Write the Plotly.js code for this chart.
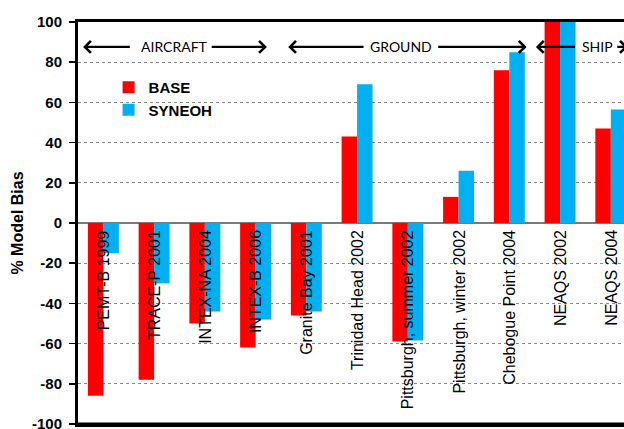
<!DOCTYPE html>
<html>
<head>
<meta charset="utf-8">
<script src="https://cdn.plot.ly/plotly-3.0.1.min.js"></script>
<style>html,body{margin:0;padding:0;background:#fff;overflow:hidden;}#chart{width:624px;height:429px;}</style>
</head>
<body>
<div id="chart"></div>
<script>
const categories = ["PEMT-B 1999", "TRACE-P 2001", "INTEX-NA 2004", "INTEX-B 2006", "Granite Bay 2001", "Trinidad Head 2002", "Pittsburgh, summer 2002", "Pittsburgh, winter 2002", "Chebogue Point 2004", "NEAQS 2002", "NEAQS 2004"];
const baseValues = [-86, -78, -50, -62, -46, 43, -59, 13, 76, 100, 47];
const syneohValues = [-15, -30, -44, -48, -44, 69, -58.5, 26, 85, 100, 56.5];
const yTicks = [-100, -80, -60, -40, -20, 0, 20, 40, 60, 80, 100];
const groups = [
  {name: "AIRCRAFT", text: 1.40, lHead: -0.40, lTail: 0.551, rTail: 2.106, rHead: 3.222},
  {name: "GROUND", text: 5.866, lHead: 3.642, lTail: 5.157, rTail: 6.569, rHead: 8.341},
  {name: "SHIP", text: 9.738, lHead: 8.524, lTail: 9.325, rTail: 10.098, rHead: 10.335}
];
const groupY = 87.6;

const ARIAL = "Liberation Sans, Arial, sans-serif";

const traces = [
  {type: "bar", name: "BASE", x: categories, y: baseValues, marker: {color: "#FF0000"}, hoverinfo: "x+y"},
  {type: "bar", name: "SYNEOH", x: categories, y: syneohValues, marker: {color: "#00B0F0"}, hoverinfo: "x+y"}
];

const annotations = [];
categories.forEach(function (c) {
  annotations.push({
    x: c, y: 0, xref: "x", yref: "y", text: c, showarrow: false,
    textangle: -90, xanchor: "center", yanchor: "top", yshift: -5,
    font: {family: ARIAL, size: 16, color: "#000"}
  });
});
groups.forEach(function (g) {
  annotations.push({x: g.text, y: groupY, xref: "x", yref: "y", text: g.name, showarrow: false,
    xanchor: "center", yanchor: "middle", font: {family: "Lato, sans-serif", size: 14, color: "#000"}});
  [[g.lHead, g.lTail], [g.rHead, g.rTail]].forEach(function (p) {
    annotations.push({x: p[0], y: groupY, ax: p[1], ay: groupY, xref: "x", yref: "y", axref: "x", ayref: "y",
      text: "", showarrow: true, arrowhead: 4, arrowsize: 1, arrowwidth: 2.3, arrowcolor: "#000", standoff: 0, startstandoff: 0});
  });
});

const layout = {
  width: 624, height: 429,
  margin: {l: 78, r: 0, t: 22, b: 5},
  paper_bgcolor: "#fff", plot_bgcolor: "#fff",
  barmode: "group", bargap: 0.39, bargroupgap: 0,
  showlegend: true,
  legend: {x: 0.056, y: 0.878, xanchor: "left", yanchor: "top", bgcolor: "rgba(0,0,0,0)",
    font: {family: ARIAL, size: 15, color: "#000", weight: "bold"}, traceorder: "normal"},
  xaxis: {type: "category", range: [-0.5, 10.26], showticklabels: false, ticks: "",
    showgrid: false, showline: true, linecolor: "#000", linewidth: 3, mirror: true, zeroline: false, fixedrange: true},
  yaxis: {range: [-100, 100], tickmode: "array", tickvals: yTicks, ticktext: yTicks.map(String),
    ticks: "outside", ticklen: 6, tickwidth: 1.5, tickcolor: "#000", ticklabelstandoff: 4,
    ticklabeloverflow: "allow",
    tickfont: {family: ARIAL, size: 15, color: "#000", weight: "bold"},
    showline: true, linecolor: "#000", linewidth: 3, mirror: false,
    showgrid: true, gridcolor: "#8a8a8a", gridwidth: 1, griddash: "dot",
    zeroline: true, zerolinecolor: "#7a7a7a", zerolinewidth: 1.5,
    title: {text: "% Model Bias", standoff: 5, font: {family: ARIAL, size: 16, color: "#000", weight: "bold"}},
    automargin: false, fixedrange: true},
  shapes: [
    {type: "line", xref: "paper", yref: "paper", x0: 0, x1: 1, y0: 0, y1: 0, line: {color: "#000", width: 3}, layer: "above"}
  ],
  annotations: annotations
};

Plotly.newPlot("chart", traces, layout, {displayModeBar: false, staticPlot: true});
</script>
</body>
</html>
